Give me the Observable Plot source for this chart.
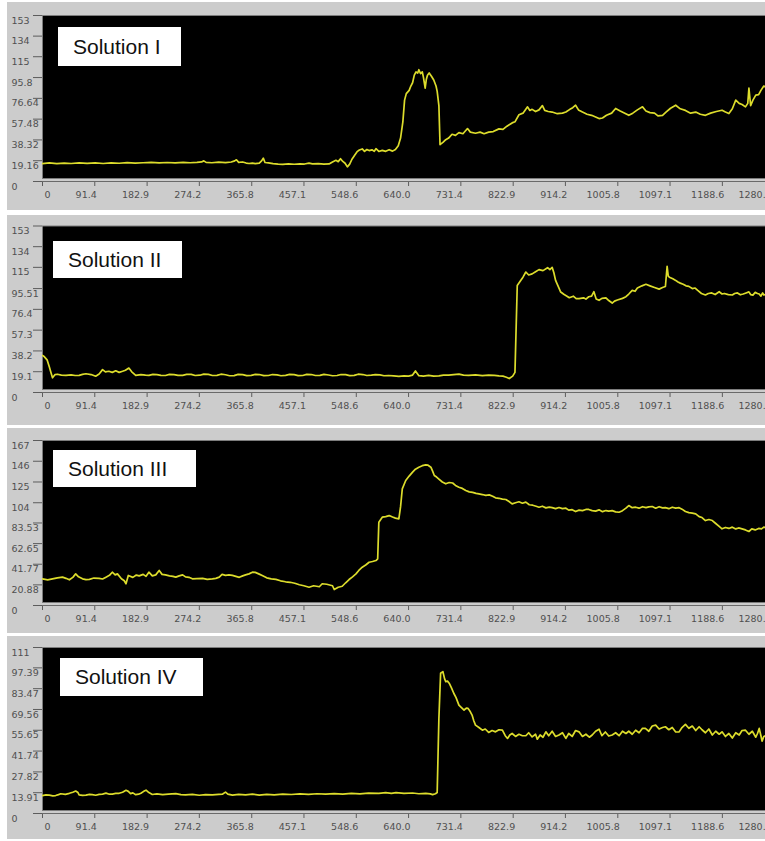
<!DOCTYPE html>
<html><head><meta charset="utf-8">
<script src="https://cdn.jsdelivr.net/npm/d3@7"></script>
<script src="https://cdn.jsdelivr.net/npm/@observablehq/plot@0.6"></script>
<style>
html,body{margin:0;padding:0;background:#fff;overflow:hidden;}
#root{position:relative;width:765px;height:841px;overflow:hidden;}
.panel{position:absolute;left:0;width:765px;}
.bg{position:absolute;left:7px;right:0;top:0;bottom:0;background:#cccccc;}
.panel svg{position:absolute;left:0;top:0;}
.label{position:absolute;background:#fff;font-family:"Liberation Sans",Arial,sans-serif;font-size:21px;color:#111;display:flex;align-items:center;padding-left:15px;box-sizing:border-box;}
</style></head><body><div id="root"></div><script>
// ---- data ----
const titles = ["Solution I", "Solution II", "Solution III", "Solution IV"];
const xTicks = [0, 91.4, 182.9, 274.2, 365.8, 457.1, 548.6, 640.0, 731.4, 822.9, 914.2, 1005.8, 1097.1, 1188.6, 1280.0];
const xLabels = ["0", "91.4", "182.9", "274.2", "365.8", "457.1", "548.6", "640.0", "731.4", "822.9", "914.2", "1005.8", "1097.1", "1188.6", "1280."];
const yLabels1 = ["0", "19.16", "38.32", "57.48", "76.64", "95.8", "115", "134", "153"];
const yLabels2 = ["0", "19.1", "38.2", "57.3", "76.4", "95.51", "115", "134", "153"];
const yLabels3 = ["0", "20.88", "41.77", "62.65", "83.53", "104", "125", "146", "167"];
const yLabels4 = ["0", "13.91", "27.82", "41.74", "55.65", "69.56", "83.47", "97.39", "111"];
const yMax = [153, 153, 167, 111];

const solution1 = [[0,16.5],[12,17.1],[25,16.4],[38,17],[50,16.6],[64,17.2],[78,16.7],[92,17.1],[106,16.6],[120,17.2],[134,16.8],[148,17.4],[162,16.9],[176,17.3],[190,17.6],[204,17.1],[218,17.5],[232,17.2],[246,17.7],[258,17.3],[270,17.6],[278,18],[282,19],[286,17.6],[296,17.3],[308,17.8],[320,17.4],[330,18],[336,19],[339,20],[343,17.6],[350,18],[356,17],[361,16.6],[367,17],[372,16.5],[379,16.9],[383,19],[386,21.5],[389,17.5],[395,17.2],[403,16.4],[412,16],[420,15.8],[430,16.2],[440,15.9],[450,16.3],[458,16.1],[466,16.9],[472,16.2],[482,16.4],[492,16],[501,16.2],[507,18],[513,19.5],[517,18.3],[521,21],[525,18.5],[529,16.8],[533,13.5],[537,16],[541,20.5],[546,24.5],[550,27.5],[554,29],[559,30],[563,27.8],[567,29.5],[571,28.5],[576,29.2],[580,27.8],[583,30.2],[588,27.7],[594,28.7],[600,27.8],[606,29.3],[612,28],[617,29.5],[622,33],[626,40],[630,55],[633,75],[636,81],[641,84],[644,88],[647,91],[650,98],[653,101],[656,100],[658,103],[661,99.5],[664,101],[666,96],[669,86],[671,94],[673,98],[676,100],[680,97],[684,93.5],[688,88],[690,83],[693,70],[695,34],[700,36],[705,38.5],[710,40],[716,43.5],[722,42.5],[728,45],[735,44],[743,48.8],[748,45.5],[757,44.5],[765,45.5],[772,44],[780,45.5],[788,46],[798,48.5],[805,48],[812,51],[821,54],[826,55],[833,61.5],[840,63],[848,68.8],[852,65.5],[856,66.5],[862,64.5],[868,66],[874,70],[878,65.5],[884,64.5],[891,64],[900,62.5],[909,63],[915,64],[922,66.5],[927,68],[932,70.3],[937,66],[944,64],[952,62],[960,61],[967,59.5],[973,58],[979,58.5],[986,61],[995,63],[1002,67.3],[1010,65],[1018,63],[1025,61],[1032,63],[1040,66],[1049,68.8],[1055,65],[1062,63.5],[1070,63],[1076,60.5],[1084,61],[1090,64],[1098,67.5],[1107,70.3],[1115,67],[1124,65.5],[1133,63],[1142,64],[1150,62],[1159,61],[1168,63],[1178,64.5],[1188,65.7],[1194,64],[1200,62.6],[1206,67],[1212,75],[1218,72],[1223,71],[1229,68.8],[1233,72],[1235,86],[1238,70],[1242,75],[1247,79.6],[1252,80],[1256,84],[1261,88],[1264,87]];

const solution2 = [[0,34],[3,33],[8,30],[12,23.5],[15,18],[17.5,13.5],[22,16.5],[26,16.8],[33,16],[41,15.8],[50,16.2],[57,15.6],[64,15.8],[70,16.6],[76,17.2],[85,16.5],[93,15],[99,17],[105,21],[110,19],[116,19.5],[122,18.5],[128,20],[134,18.5],[140,19.5],[145,20.5],[151,22.5],[156,19],[163,15.8],[172,16.5],[180,15.9],[186,15.8],[193,16.6],[200,16.5],[207,15.8],[215,15.6],[222,16.6],[230,16.4],[237,15.7],[245,15.8],[252,16.7],[260,16.6],[267,15.6],[275,15.9],[282,16.9],[290,16.7],[297,15.6],[305,15.8],[312,16.8],[320,16.3],[327,15.4],[335,15.5],[342,16.6],[350,16.4],[357,15.5],[365,15.8],[372,16.7],[379,16.5],[387,15.5],[395,15.6],[402,16.5],[410,16.2],[417,15.4],[425,15.7],[432,16.6],[440,16.4],[447,15.5],[455,15.6],[462,16.7],[470,16.5],[477,15.6],[485,15.8],[492,16.6],[500,16.1],[507,15.4],[515,15.6],[522,16.5],[530,16.4],[537,15.5],[545,15.7],[552,16.8],[560,16.5],[567,15.6],[575,15.9],[582,16.5],[590,16.2],[597,15.4],[605,15.6],[614,15.2],[623,14.8],[632,15.3],[640,15],[647,16],[652,19.8],[658,15.5],[666,15.1],[675,15.8],[684,15],[693,15.2],[701,15.9],[710,16],[719,16.4],[728,16.9],[736,15.9],[745,15.8],[757,16.2],[769,15.5],[780,16],[790,15.8],[798,15.2],[805,15],[811,14],[816,12.8],[822,15],[826,18.5],[830,98.4],[836,103],[840,106],[845,110.7],[850,108],[856,109],[862,111],[868,112.9],[875,112],[883,114.7],[887,113],[891,115],[894,110],[897,103],[902,97],[906,92.3],[912,90],[917,88.5],[921,87.1],[928,88.5],[933,86.3],[938,86.2],[946,87],[950,85.8],[955,88],[960,88.5],[964,92.6],[968,86],[973,84.7],[978,86.5],[985,87],[990,84.5],[996,82.2],[1000,84],[1005,85],[1014,86.5],[1020,88],[1025,90.5],[1031,93.8],[1036,93],[1040,96],[1048,98],[1055,99.4],[1062,98],[1070,96.5],[1078,95],[1084,96.5],[1089,97.4],[1092,116],[1094,107],[1096,106],[1102,104.5],[1107,103],[1111,101.5],[1115,100.5],[1120,99.5],[1125,98],[1130,97.5],[1136,95.5],[1141,96],[1145,94],[1152,91],[1159,89.6],[1164,91],[1170,91.5],[1176,90],[1183,92.6],[1188,90.5],[1192,91],[1199,90],[1206,89.6],[1210,91],[1215,91.5],[1220,89.8],[1225,90.5],[1230,91.5],[1235,92.5],[1238,90],[1242,89.5],[1246,92],[1250,91],[1253,90.5],[1256,88.5],[1259,91.5],[1261,89.6],[1264,90]];

const solution3 = [[0,27],[9,26],[17.5,27],[26,28],[35,28.7],[41,27.5],[47,26],[53,28.5],[58,32],[63,29],[70,27],[76,26.2],[82,26.5],[90,27.8],[99,27.5],[105,26.8],[111,28.7],[117,30.5],[122,33.7],[127,31],[131,32],[138,27],[143,25],[146,22],[150,30.4],[158,28.5],[164,30.8],[169,30],[176,31.5],[181,29.5],[186,33.7],[192,30],[198,31],[204,35.4],[209,31.5],[215,31],[222,30],[228,29.5],[233,28.7],[239,30],[245,31],[250,29],[256,28.5],[262,27],[270,27.2],[280,27.5],[288,26.5],[297,27],[303,27.5],[309,28.7],[314,31.5],[320,30.5],[326,31],[332,30.5],[338,29.5],[344,28.5],[350,30],[355,31],[361,32],[367,33.7],[372,33.5],[378,32],[385,30],[392,28],[400,27],[408,26.5],[416,25],[425,24],[433,23.5],[441,22.5],[449,21],[457,20],[466,18.5],[474,20],[484,19],[489,22],[497,21.5],[507,20],[510,16.2],[517,18.5],[524,19.5],[530,23],[536,26.3],[542,29],[548,32],[553,35.5],[559,38.8],[565,41],[571,43.8],[577,44.5],[583,45.5],[586,47.2],[588,84.3],[594,89.4],[600,90],[606,91],[612,89.5],[617,88.4],[623,87.7],[626,100],[629,118],[635,126.5],[641,131],[647,135],[652,138],[658,140],[664,141.5],[670,142.4],[674,142],[679,140],[682,136],[685,131.6],[689,130],[693,128],[699,125],[705,123.2],[711,124.5],[717,124],[722,121.5],[728,119.7],[734,118.5],[740,116.4],[746,115],[752,114.5],[758,113.5],[763,113],[769,112.3],[775,111.5],[781,112],[787,110.6],[792,109],[798,108.5],[804,107.6],[810,107.3],[815,105.5],[821,102.9],[827,104],[833,105],[839,103.5],[845,104.6],[851,102],[857,101.5],[863,100.5],[868,99.5],[874,100.5],[880,98.8],[886,99.5],[891,99],[897,98],[903,99.2],[909,98],[915,98.5],[920,96.5],[926,97],[932,95.1],[938,96.5],[944,96],[950,97.2],[955,97.2],[961,96],[967,95.5],[973,96.8],[979,95],[985,96.1],[990,95.5],[996,96],[1002,94.8],[1008,94.4],[1014,96],[1020,98.5],[1025,101.2],[1031,99],[1037,99.5],[1043,98.5],[1049,100],[1055,99],[1060,99.8],[1066,100.2],[1072,98.5],[1078,100],[1084,98.8],[1089,99],[1095,98],[1101,99.5],[1107,98.5],[1113,99],[1118,97.5],[1124,95.1],[1130,94],[1136,93.5],[1142,92.8],[1148,90],[1153,89],[1159,86],[1165,87],[1171,86],[1177,83],[1183,80],[1188,77.6],[1194,79],[1200,78],[1206,79.3],[1212,77.5],[1217,78.5],[1223,77.6],[1229,76.5],[1235,74.9],[1240,77.5],[1246,76.5],[1252,78],[1257,77.5],[1261,79.3],[1264,79]];

const solution4 = [[0,12],[6,12.4],[12,12.3],[18,11.8],[23,12],[28,12.6],[32,13.2],[40,12.8],[47,13.5],[53,14.2],[58,15],[62,14],[64,12.5],[70,12.1],[76,12.3],[82,12.8],[87,12.6],[93,12.2],[99,12.8],[105,13],[111,13.6],[117,12.9],[122,13],[128,13.4],[134,13.5],[140,14.2],[146,15.5],[150,14.8],[154,13.3],[158,13.8],[163,12.6],[168,12.9],[172,13.5],[177,14.8],[181,15.6],[186,14],[192,12.7],[200,13.1],[210,12.6],[220,12.9],[233,13.3],[242,12.6],[250,12.4],[262,12.8],[274,12.2],[285,12.6],[297,12.5],[308,12.8],[315,13],[320,14.3],[324,13],[332,12.3],[343,12.8],[355,12.5],[367,12.9],[379,12.3],[392,12.8],[405,12.5],[420,13],[435,12.7],[450,13.1],[465,12.8],[480,13.2],[495,12.9],[510,13.3],[525,13],[540,13.4],[555,13.1],[570,13.6],[588,13.5],[600,13.9],[610,13.4],[618,13.9],[632,13.5],[647,13.7],[658,13.2],[670,13.5],[678,13.1],[682,12.6],[687,13.2],[690,14],[693,63.6],[696,93.8],[700,94.9],[703,90],[705,88.2],[708,88.5],[711,87.1],[715,84],[719,80.4],[723,77.5],[728,72.5],[732,71],[737,69.2],[741,70.5],[744,70.3],[748,68],[751,65.8],[754,62],[757,59.1],[763,57.5],[769,55.7],[774,56.5],[780,54.2],[786,55.5],[792,54.6],[798,56],[804,55.7],[809,52],[813,50.2],[817,52.5],[821,53.5],[827,51.5],[833,53],[839,52],[845,52],[850,54],[856,51.2],[862,53],[865,49.7],[870,52.5],[875,51],[880,54.6],[885,52],[891,55],[897,51.5],[903,52.5],[909,54],[915,50.2],[920,53.5],[926,51.5],[932,55.5],[938,54.6],[944,51.5],[950,53],[956,51],[961,52.5],[967,55],[973,56.4],[978,52],[984,54.5],[990,51.8],[996,52.5],[1002,54],[1008,52],[1014,55],[1020,53.5],[1025,55],[1031,53],[1037,55.7],[1043,54],[1049,57],[1054,56.9],[1060,55],[1066,58.5],[1072,59.1],[1078,56.5],[1084,57.5],[1089,58],[1095,56],[1101,57.5],[1107,54.5],[1113,54.6],[1118,57.5],[1124,59.6],[1130,57],[1136,58.5],[1142,55.5],[1148,58],[1153,56],[1159,54],[1165,56.5],[1171,52.5],[1177,55],[1183,53],[1188,54.6],[1194,51.5],[1200,53.5],[1206,50.5],[1212,54],[1218,52.5],[1223,55.5],[1229,55.7],[1235,53],[1241,55],[1247,51],[1250,53.5],[1253,56.9],[1256,52],[1258,48.4],[1261,51.5],[1264,52]];

// ---- layout ----
const series = [solution1, solution2, solution3, solution4];
const yLabelSets = [yLabels1, yLabels2, yLabels3, yLabels4];
const layout = [
  {top: 2,   height: 208, mt: 13,   mb: 29, box: {left: 58, top: 27,  width: 123, height: 39}},
  {top: 215, height: 210, mt: 10.5, mb: 33, box: {left: 53, top: 241, width: 129, height: 37}},
  {top: 428, height: 205, mt: 12,   mb: 28, box: {left: 53, top: 450, width: 143, height: 37}},
  {top: 636, height: 203, mt: 11,   mb: 26, box: {left: 60, top: 658, width: 143, height: 38}}
];

const root = document.getElementById("root");
const lineColor = "#dcdc2c";
const textColor = "#505050";
const nx = xLabels.length;

layout.forEach((L, k) => {
  const panel = document.createElement("div");
  panel.className = "panel";
  panel.style.top = L.top + "px";
  panel.style.height = L.height + "px";
  const bg = document.createElement("div");
  bg.className = "bg";
  panel.appendChild(bg);

  const yTicks = yLabelSets[k].map(Number);
  const chart = Plot.plot({
    width: 765,
    height: L.height,
    marginLeft: 42,
    marginRight: 0,
    marginTop: L.mt,
    marginBottom: L.mb,
    style: {background: "transparent", color: "#5c5c5c", fontFamily: "'DejaVu Sans', Verdana, sans-serif", fontSize: "9.5px", overflow: "visible"},
    x: {domain: [0, 1264], ticks: xTicks, tickFormat: () => "", tickSize: 5, label: null},
    y: {domain: [0, yMax[k]], ticks: yTicks, tickFormat: () => "", tickSize: 9, label: null},
    marks: [
      Plot.frame({fill: "black", stroke: "#7c7c7c", insetBottom: 3}),
      Plot.ruleY([0], {stroke: "#6a6a6a", strokeWidth: 1}),
      Plot.line(series[k], {x: d => d[0], y: d => d[1], stroke: lineColor, strokeWidth: 1.7, clip: true}),
      Plot.text(yLabelSets[k], {y: (d, i) => yTicks[i], text: d => d, frameAnchor: "left", textAnchor: "start", dx: -31, dy: 5, fill: textColor}),
      Plot.text(xLabels.slice(0, 1), {x: (d, i) => xTicks[i], text: d => d, frameAnchor: "bottom", textAnchor: "start", dx: 2, dy: 16, fill: textColor}),
      Plot.text(xLabels.slice(1, nx - 1), {x: (d, i) => xTicks[i + 1], text: d => d, frameAnchor: "bottom", textAnchor: "end", dx: 2, dy: 16, fill: textColor}),
      Plot.text(xLabels.slice(nx - 1), {x: (d, i) => xTicks[nx - 1 + i], text: d => d, frameAnchor: "bottom", textAnchor: "end", dx: -9, dy: 16, fill: textColor})
    ]
  });
  panel.appendChild(chart);
  root.appendChild(panel);

  const box = document.createElement("div");
  box.className = "label";
  box.style.left = L.box.left + "px";
  box.style.top = L.box.top + "px";
  box.style.width = L.box.width + "px";
  box.style.height = L.box.height + "px";
  box.textContent = titles[k];
  root.appendChild(box);
});
</script></body></html>
